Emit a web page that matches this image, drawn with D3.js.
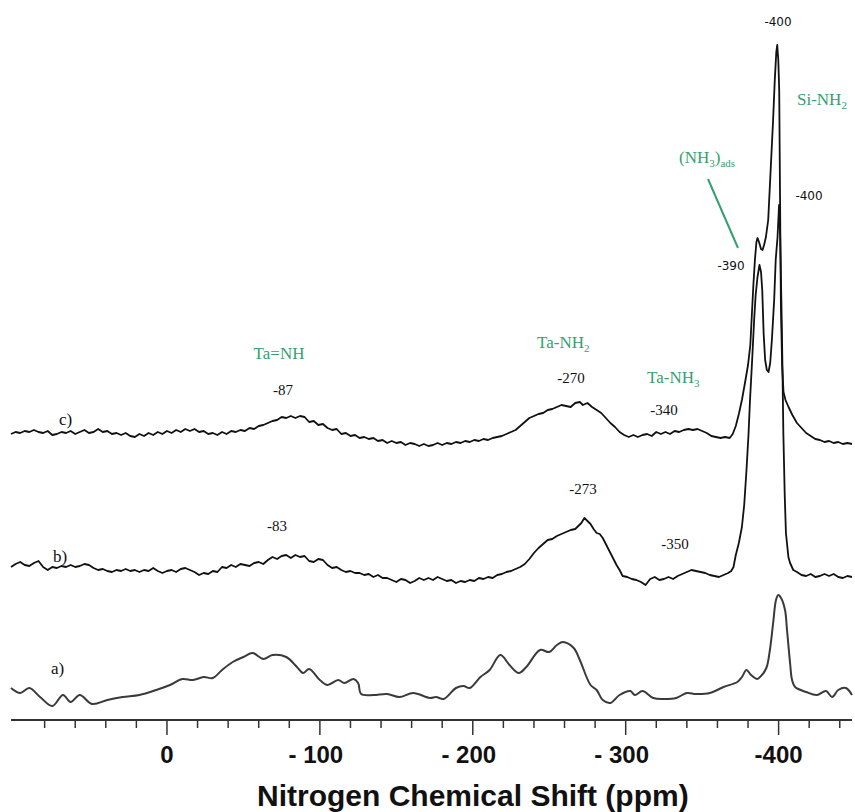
<!DOCTYPE html>
<html>
<head>
<meta charset="utf-8">
<script src="https://cdn.jsdelivr.net/npm/d3@7"></script>
<style>
  body { margin: 0; background: #fff; }
  svg { display: block; }
</style>
</head>
<body>
<svg id="chart"></svg>
<script>
// spectra: [ppm, intensity above own baseline]
var traceC = [
  [102,6],[99,8],[96,7],[93,9],[90,8],[87,10],[84,8],[81,7],[78,9],[75,5],[72,6],[69,8],[66,7],[63,9],[60,6],
  [57,8],[54,10],[51,7],[48,8],[45,11],[42,8],[39,9],[36,6],[33,7],[30,5],[27,7],[24,4],[21,3],[18,6],[15,4],
  [12,7],[9,5],[6,8],[3,6],[0,9],[-3,7],[-6,10],[-9,8],[-12,11],[-15,9],[-18,11],[-21,8],[-24,9],[-27,6],[-30,7],
  [-33,5],[-36,8],[-39,6],[-42,9],[-45,8],[-48,10],[-51,9],[-54,12],[-57,11],[-60,14],[-63,15],[-66,17],[-69,19],
  [-72,20],[-75,23],[-78,22],[-81,24],[-84,22],[-87,24],[-90,23],[-93,18],[-96,19],[-99,15],[-102,16],[-105,12],
  [-108,10],[-111,11],[-114,6],[-117,7],[-120,4],[-123,5],[-126,2],[-129,3],[-132,1],[-135,2],[-138,-1],[-141,0],
  [-144,-3],[-147,-1],[-150,-3],[-153,-2],[-156,-5],[-159,-3],[-162,-4],[-165,-6],[-168,-4],[-171,-6],[-174,-5],
  [-177,-3],[-180,-5],[-183,-3],[-186,-4],[-189,-2],[-192,-3],[-195,-1],[-198,-2],[-201,0],[-204,-1],[-207,1],
  [-210,0],[-213,2],[-216,3],[-219,4],[-222,6],[-225,8],[-228,10],[-231,14],[-234,18],[-237,22],[-240,24],
  [-243,26],[-246,27],[-249,30],[-252,31],[-255,33],[-258,35],[-261,34],[-264,33],[-267,37],[-270,38],[-272,35],
  [-275,37],[-278,33],[-281,30],[-284,27],[-287,22],[-290,17],[-293,13],[-296,8],[-299,5],[-302,3],[-305,5],
  [-308,3],[-311,5],[-314,6],[-317,4],[-320,8],[-323,6],[-326,8],[-329,6],[-332,9],[-335,8],[-338,10],[-341,11],
  [-344,10],[-347,11],[-350,9],[-353,7],[-356,4],[-359,3],[-362,2],[-365,3],[-368,2],[-370,6],[-372,14],[-374,26],
  [-376,40],[-378,57],[-380,75],[-381.5,95],[-382.5,125],[-383.5,155],[-384.5,180],[-385.5,198],[-386.2,202],
  [-387.2,198],[-388.5,191],[-389.5,190],[-390.5,195],[-391.7,203],[-393.2,220],[-394.8,270],[-396.4,320],
  [-397.5,360],[-398.5,388],[-399.1,395],[-399.8,380],[-400.4,350],[-400.9,250],[-401.5,135],[-402.3,75],
  [-403.2,48],[-404.5,40],[-406.5,33],[-409,25],[-412,17],[-415,12],[-418,7],[-421,4],[-424,1],[-427,0],
  [-430,-2],[-433,-1],[-436,-3],[-439,-2],[-442,-4],[-445,-3],[-448,-4]
]

var traceB = [
  [102,8],[99,11],[96,13],[93,10],[90,9],[87,12],[84,14],[81,8],[78,5],[75,8],[72,7],[69,9],[66,8],[63,10],[60,8],
  [57,9],[54,11],[51,10],[48,7],[45,5],[42,6],[39,4],[36,3],[33,5],[30,4],[27,6],[24,4],[21,5],[18,3],[15,5],
  [12,4],[9,7],[6,4],[3,2],[0,4],[-3,5],[-6,3],[-9,6],[-12,7],[-15,5],[-18,3],[-21,0],[-24,2],[-27,1],[-30,4],
  [-33,3],[-36,8],[-39,7],[-42,10],[-45,8],[-48,11],[-51,10],[-54,9],[-57,12],[-60,13],[-63,11],[-66,15],[-69,18],
  [-72,16],[-75,19],[-78,20],[-81,17],[-84,20],[-87,18],[-90,19],[-93,14],[-96,13],[-99,16],[-102,15],[-105,10],
  [-108,7],[-111,8],[-114,5],[-117,3],[-120,4],[-123,2],[-126,2],[-129,0],[-132,1],[-135,-2],[-138,0],[-141,-3],
  [-144,-3],[-147,-5],[-150,-7],[-153,-4],[-156,-5],[-159,-8],[-162,-6],[-165,-3],[-168,-5],[-171,-3],[-174,-5],
  [-177,-2],[-180,-4],[-183,-6],[-186,-5],[-189,-8],[-192,-6],[-195,-7],[-198,-5],[-201,-6],[-204,-3],[-207,-4],
  [-210,-2],[-213,-3],[-216,0],[-219,1],[-222,3],[-225,4],[-228,6],[-231,8],[-234,11],[-237,16],[-240,22],
  [-243,27],[-246,31],[-249,35],[-252,36],[-255,39],[-258,41],[-261,43],[-264,45],[-267,46],[-269,49],[-271,52],
  [-273,57],[-275,54],[-277,51],[-279,46],[-281,42],[-283,41],[-285,37],[-287,31],[-290,22],[-292,16],[-294,10],
  [-296,5],[-298,-1],[-301,-2],[-304,-4],[-307,-5],[-310,-7],[-313,-10],[-316,-4],[-319,-2],[-322,-5],[-325,-4],
  [-328,-2],[-331,-4],[-334,-1],[-337,1],[-340,3],[-343,5],[-346,4],[-349,3],[-352,2],[-355,0],[-358,-1],
  [-361,-2],[-364,0],[-367,2],[-369,4],[-370.5,8],[-372,20],[-374,32],[-376,48],[-377.5,70],[-379,105],
  [-380.3,140],[-381.3,175],[-382.7,215],[-384,255],[-385,280],[-386.2,298],[-387.5,310],[-388.5,303],
  [-389.3,285],[-390.2,242],[-391.2,215],[-392.3,205],[-393.4,203],[-394.5,212],[-395.6,235],[-397.1,275],
  [-398.1,315],[-399.3,338],[-400.3,370],[-401,340],[-401.8,275],[-402.4,220],[-403.1,142],[-404,80],
  [-404.8,42],[-406.4,18],[-407.5,12],[-409.6,5],[-412,3],[-415,0],[-418,-1],[-421,1],[-424,-2],[-427,-1],
  [-430,1],[-433,-1],[-436,1],[-439,-2],[-442,-3],[-445,-1],[-448,-2]
]

var traceA = [
  [102,8],[96,3],[90,8],[83,-1],[75,-10],[68,1],[63,-6],[57,1],[49,-8],[39,-4],[29,-1],[18,1],[7,6],[-2,11],
  [-10,17],[-17,16],[-24,19],[-30,18],[-36,26],[-43,34],[-50,39],[-56,43],[-63,37],[-69,41],[-78,39],[-85,29],
  [-89,23],[-93,27],[-100,16],[-105,11],[-112,16],[-116,13],[-122,17],[-125,13],[-127,2],[-135,1],[-144,2],
  [-152,-1],[-161,3],[-172,-2],[-176,-1],[-181,-3],[-189,8],[-194,10],[-198,8],[-205,19],[-211,26],[-218,41],
  [-224,31],[-230,23],[-235,29],[-244,46],[-250,44],[-255,51],[-259,54],[-266,48],[-270,36],[-277,11],[-281,6],
  [-285,-4],[-290,-7],[-296,1],[-303,5],[-306,1],[-311,5],[-318,-2],[-325,-3],[-333,-2],[-340,3],[-346,2],
  [-355,3],[-364,9],[-373,14],[-376,19],[-379,26],[-382,21],[-386,17],[-388.5,20],[-392,28],[-394.3,46],
  [-396.5,74],[-398.3,96],[-399.8,101],[-401.6,98],[-404.2,86],[-405.5,66],[-407.5,33],[-408.8,16],[-410.8,9],
  [-418,4],[-425,1],[-431,5],[-435,-1],[-439,6],[-444,8],[-448,1]
]

var traceNames = ["c)", "b)", "a)"]
var traceOffsets = [280, 145, 24]

var majorTicks = [0, -100, -200, -300, -400]
var tickLabels = ["0", "- 100", "- 200", "- 300", "-400"]
var minorTicks = [80, 60, 40, 20, -20, -40, -60, -80, -120, -140, -160, -180, -220, -240, -260, -280,
                  -320, -340, -360, -380, -420, -440]

var width = 855
var height = 812
var green = "#34a070"

const svg = d3.select("#chart")
    .attr("width", width)
    .attr("height", height)

const x = d3.scaleLinear().domain([102, -448]).range([11, 852])
const y = d3.scaleLinear().domain([0, 700]).range([720, 20])

// axis
svg.append("line")
    .attr("x1", x(102)).attr("x2", x(-448))
    .attr("y1", y(0)).attr("y2", y(0))
    .attr("stroke", "#333").attr("stroke-width", 2)

svg.append("g").selectAll("line")
    .data(minorTicks)
    .enter().append("line")
    .attr("x1", d => x(d)).attr("x2", d => x(d))
    .attr("y1", y(0)).attr("y2", y(0) + 8)
    .attr("stroke", "#333").attr("stroke-width", 1.5)

svg.append("g").selectAll("line")
    .data(majorTicks)
    .enter().append("line")
    .attr("x1", d => x(d)).attr("x2", d => x(d))
    .attr("y1", y(0)).attr("y2", y(0) + 15)
    .attr("stroke", "#333").attr("stroke-width", 1.5)

svg.append("g").selectAll("text")
    .data(majorTicks)
    .enter().append("text")
    .attr("x", (d, i) => x(d) - (tickLabels[i].indexOf(" ") > 0 ? 4 : 0))
    .attr("y", y(0) + 43)
    .attr("text-anchor", "middle")
    .attr("font-family", "Liberation Sans, Arial, sans-serif")
    .attr("font-weight", "bold")
    .attr("font-size", 24)
    .attr("fill", "#111")
    .text((d, i) => tickLabels[i])

svg.append("text")
    .attr("x", 257)
    .attr("y", 806)
    .attr("font-family", "Liberation Sans, Arial, sans-serif")
    .attr("font-weight", "bold")
    .attr("font-size", 30)
    .attr("fill", "#111")
    .text("Nitrogen Chemical Shift (ppm)")

// spectra
var traces = [traceC, traceB, traceA]
traces.forEach(function(tr, i){
    var line = d3.line()
        .x(d => x(d[0]))
        .y(d => y(traceOffsets[i] + d[1]))
        .curve(i === 2 ? d3.curveCatmullRom.alpha(0.5) : d3.curveLinear)
    svg.append("path")
        .datum(tr)
        .attr("d", line)
        .attr("fill", "none")
        .attr("stroke", i === 2 ? "#3a3a3a" : "#111")
        .attr("stroke-width", i === 2 ? 2 : 1.8)
        .attr("stroke-linejoin", "round")
})

// trace names
var namePos = [[59, 425], [53, 562], [51, 674]]
svg.append("g").selectAll("text")
    .data(traceNames)
    .enter().append("text")
    .attr("x", (d, i) => namePos[i][0])
    .attr("y", (d, i) => namePos[i][1])
    .attr("font-family", "Liberation Serif, Times New Roman, serif")
    .attr("font-size", 17)
    .attr("fill", "#111")
    .text(d => d)

// peak shift labels
var serifPeaks = [
    {t: "-87", x: 283, y: 395}, {t: "-270", x: 571, y: 383}, {t: "-340", x: 664, y: 415},
    {t: "-83", x: 277, y: 531}, {t: "-273", x: 583, y: 494}, {t: "-350", x: 675, y: 549}
]
svg.append("g").selectAll("text")
    .data(serifPeaks)
    .enter().append("text")
    .attr("x", d => d.x).attr("y", d => d.y)
    .attr("text-anchor", "middle")
    .attr("font-family", "Liberation Serif, Times New Roman, serif")
    .attr("font-size", 15)
    .attr("fill", "#111")
    .text(d => d.t)

var sansPeaks = [
    {t: "-400", x: 778, y: 26}, {t: "-400", x: 809, y: 200}, {t: "-390", x: 731, y: 270}
]
svg.append("g").selectAll("text")
    .data(sansPeaks)
    .enter().append("text")
    .attr("x", d => d.x).attr("y", d => d.y)
    .attr("text-anchor", "middle")
    .attr("font-family", "DejaVu Sans, Verdana, sans-serif")
    .attr("font-size", 12)
    .attr("fill", "#111")
    .text(d => d.t)

// green assignments, subscripts lowered with dy
function greenLabel(parts, xx, yy, anchor){
    var t = svg.append("text")
        .attr("x", xx).attr("y", yy)
        .attr("text-anchor", anchor || "start")
        .attr("font-family", "Liberation Serif, Times New Roman, serif")
        .attr("font-size", 17)
        .attr("fill", green)
    var low = false
    parts.forEach(function(p){
        var sp = t.append("tspan").text(p.s)
        if (p.sub) {
            sp.attr("font-size", 11)
            if (!low) sp.attr("dy", 4)
            low = true
        } else if (low) {
            sp.attr("dy", -4)
            low = false
        }
    })
}
greenLabel([{s: "Ta=NH"}], 279, 359, "middle")
greenLabel([{s: "Ta-NH"}, {s: "2", sub: true}], 537, 348)
greenLabel([{s: "Ta-NH"}, {s: "3", sub: true}], 647, 383)
greenLabel([{s: "Si-NH"}, {s: "2", sub: true}], 797, 105)
greenLabel([{s: "(NH"}, {s: "3", sub: true}, {s: ")"}, {s: "ads", sub: true}], 679, 163)

svg.append("line")
    .attr("x1", 708).attr("y1", 179)
    .attr("x2", 738).attr("y2", 248)
    .attr("stroke", green).attr("stroke-width", 2)
</script>
</body>
</html>
